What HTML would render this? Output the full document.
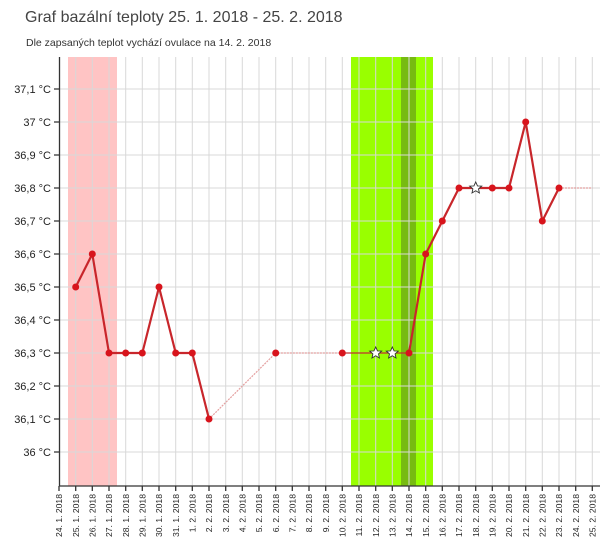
<!DOCTYPE html>
<html><head><meta charset="utf-8"><style>
body{margin:0;background:#fff;width:600px;height:540px;overflow:hidden;font-family:"Liberation Sans",sans-serif}
</style></head><body>
<svg width="600" height="540" xmlns="http://www.w3.org/2000/svg" font-family="Liberation Sans, sans-serif">
<text x="25" y="22" font-size="16" fill="#444">Graf bazální teploty 25. 1. 2018 - 25. 2. 2018</text>
<text x="26" y="46" font-size="10.5" fill="#333">Dle zapsaných teplot vychází ovulace na 14. 2. 2018</text>
<rect x="68" y="57" width="49" height="429" fill="#ffc4c4"/>
<rect x="351" y="57" width="82" height="429" fill="#99ff00"/>
<rect x="401" y="57" width="15" height="429" fill="#77bb11"/>
<g stroke="#d8d8d8" stroke-width="1">
<path d="M75.7 57V486M92.3 57V486M109 57V486M125.7 57V486M142.3 57V486M159 57V486M175.7 57V486M192.3 57V486M209 57V486M225.7 57V486M242.3 57V486M259 57V486M275.7 57V486M292.3 57V486M309 57V486M325.7 57V486M342.3 57V486M359 57V486M375.7 57V486M392.3 57V486M409 57V486M425.7 57V486M442.3 57V486M459 57V486M475.7 57V486M492.3 57V486M509 57V486M525.7 57V486M542.3 57V486M559 57V486M575.7 57V486M592.3 57V486"/>
<path d="M59 89H600M59 122H600M59 155H600M59 188H600M59 221H600M59 254H600M59 287H600M59 320H600M59 353H600M59 386H600M59 419H600M59 452H600"/>
</g>
<g stroke="#333" stroke-width="1.3">
<path d="M59.5 57V486M59 486H600"/>
<path d="M54 89H59M54 122H59M54 155H59M54 188H59M54 221H59M54 254H59M54 287H59M54 320H59M54 353H59M54 386H59M54 419H59M54 452H59"/>
<path d="M59 486v5M75.7 486v5M92.3 486v5M109 486v5M125.7 486v5M142.3 486v5M159 486v5M175.7 486v5M192.3 486v5M209 486v5M225.7 486v5M242.3 486v5M259 486v5M275.7 486v5M292.3 486v5M309 486v5M325.7 486v5M342.3 486v5M359 486v5M375.7 486v5M392.3 486v5M409 486v5M425.7 486v5M442.3 486v5M459 486v5M475.7 486v5M492.3 486v5M509 486v5M525.7 486v5M542.3 486v5M559 486v5M575.7 486v5M592.3 486v5"/>
</g>
<g font-size="11" fill="#222" text-anchor="end">
<text x="51" y="93">37,1 °C</text><text x="51" y="126">37 °C</text><text x="51" y="159">36,9 °C</text><text x="51" y="192">36,8 °C</text><text x="51" y="225">36,7 °C</text><text x="51" y="258">36,6 °C</text><text x="51" y="291">36,5 °C</text><text x="51" y="324">36,4 °C</text><text x="51" y="357">36,3 °C</text><text x="51" y="390">36,2 °C</text><text x="51" y="423">36,1 °C</text><text x="51" y="456">36 °C</text>
</g>
<g font-size="8.6" fill="#222" text-anchor="end">
<text transform="translate(62.2,494) rotate(-90)">24. 1. 2018</text>
<text transform="translate(78.9,494) rotate(-90)">25. 1. 2018</text>
<text transform="translate(95.5,494) rotate(-90)">26. 1. 2018</text>
<text transform="translate(112.2,494) rotate(-90)">27. 1. 2018</text>
<text transform="translate(128.9,494) rotate(-90)">28. 1. 2018</text>
<text transform="translate(145.5,494) rotate(-90)">29. 1. 2018</text>
<text transform="translate(162.2,494) rotate(-90)">30. 1. 2018</text>
<text transform="translate(178.9,494) rotate(-90)">31. 1. 2018</text>
<text transform="translate(195.5,494) rotate(-90)">1. 2. 2018</text>
<text transform="translate(212.2,494) rotate(-90)">2. 2. 2018</text>
<text transform="translate(228.9,494) rotate(-90)">3. 2. 2018</text>
<text transform="translate(245.5,494) rotate(-90)">4. 2. 2018</text>
<text transform="translate(262.2,494) rotate(-90)">5. 2. 2018</text>
<text transform="translate(278.9,494) rotate(-90)">6. 2. 2018</text>
<text transform="translate(295.5,494) rotate(-90)">7. 2. 2018</text>
<text transform="translate(312.2,494) rotate(-90)">8. 2. 2018</text>
<text transform="translate(328.9,494) rotate(-90)">9. 2. 2018</text>
<text transform="translate(345.5,494) rotate(-90)">10. 2. 2018</text>
<text transform="translate(362.2,494) rotate(-90)">11. 2. 2018</text>
<text transform="translate(378.9,494) rotate(-90)">12. 2. 2018</text>
<text transform="translate(395.5,494) rotate(-90)">13. 2. 2018</text>
<text transform="translate(412.2,494) rotate(-90)">14. 2. 2018</text>
<text transform="translate(428.9,494) rotate(-90)">15. 2. 2018</text>
<text transform="translate(445.5,494) rotate(-90)">16. 2. 2018</text>
<text transform="translate(462.2,494) rotate(-90)">17. 2. 2018</text>
<text transform="translate(478.9,494) rotate(-90)">18. 2. 2018</text>
<text transform="translate(495.5,494) rotate(-90)">19. 2. 2018</text>
<text transform="translate(512.2,494) rotate(-90)">20. 2. 2018</text>
<text transform="translate(528.9,494) rotate(-90)">21. 2. 2018</text>
<text transform="translate(545.5,494) rotate(-90)">22. 2. 2018</text>
<text transform="translate(562.2,494) rotate(-90)">23. 2. 2018</text>
<text transform="translate(578.9,494) rotate(-90)">24. 2. 2018</text>
<text transform="translate(595.5,494) rotate(-90)">25. 2. 2018</text>
</g>
<g fill="none" stroke="#e4a0a0" stroke-width="1.2" stroke-dasharray="2 1">
<path d="M209 419L275.7 353L342.3 353"/>
<path d="M559 188L592.3 188"/>
</g>
<path d="M342.3 353L409 353" stroke="#c03030" stroke-width="1.3" fill="none"/>
<g fill="none" stroke="#c8262b" stroke-width="2.2" stroke-linejoin="round">
<path d="M75.7 287L92.3 254L109 353L125.7 353L142.3 353L159 287L175.7 353L192.3 353L209 419"/>
<path d="M409 353L425.7 254L442.3 221L459 188L475.7 188L492.3 188L509 188L525.7 122L542.3 221L559 188"/>
</g>
<g fill="#d8141c">
<circle cx="75.7" cy="287" r="3.5"/><circle cx="92.3" cy="254" r="3.5"/><circle cx="109" cy="353" r="3.5"/><circle cx="125.7" cy="353" r="3.5"/><circle cx="142.3" cy="353" r="3.5"/><circle cx="159" cy="287" r="3.5"/><circle cx="175.7" cy="353" r="3.5"/><circle cx="192.3" cy="353" r="3.5"/><circle cx="209" cy="419" r="3.5"/><circle cx="275.7" cy="353" r="3.5"/><circle cx="342.3" cy="353" r="3.5"/><circle cx="409" cy="353" r="3.5"/><circle cx="425.7" cy="254" r="3.5"/><circle cx="442.3" cy="221" r="3.5"/><circle cx="459" cy="188" r="3.5"/><circle cx="492.3" cy="188" r="3.5"/><circle cx="509" cy="188" r="3.5"/><circle cx="525.7" cy="122" r="3.5"/><circle cx="542.3" cy="221" r="3.5"/><circle cx="559" cy="188" r="3.5"/>
</g>
<g fill="#fff" stroke="#333" stroke-width="0.9">
<path transform="translate(375.7,353)" d="M0,-6L1.8,-2.1L6,-1.9L2.8,0.9L3.7,5L0,2.8L-3.7,5L-2.8,0.9L-6,-1.9L-1.8,-2.1Z"/>
<path transform="translate(392.3,353)" d="M0,-6L1.8,-2.1L6,-1.9L2.8,0.9L3.7,5L0,2.8L-3.7,5L-2.8,0.9L-6,-1.9L-1.8,-2.1Z"/>
<path transform="translate(475.7,188)" d="M0,-6L1.8,-2.1L6,-1.9L2.8,0.9L3.7,5L0,2.8L-3.7,5L-2.8,0.9L-6,-1.9L-1.8,-2.1Z"/>
</g>
</svg>
</body></html>
